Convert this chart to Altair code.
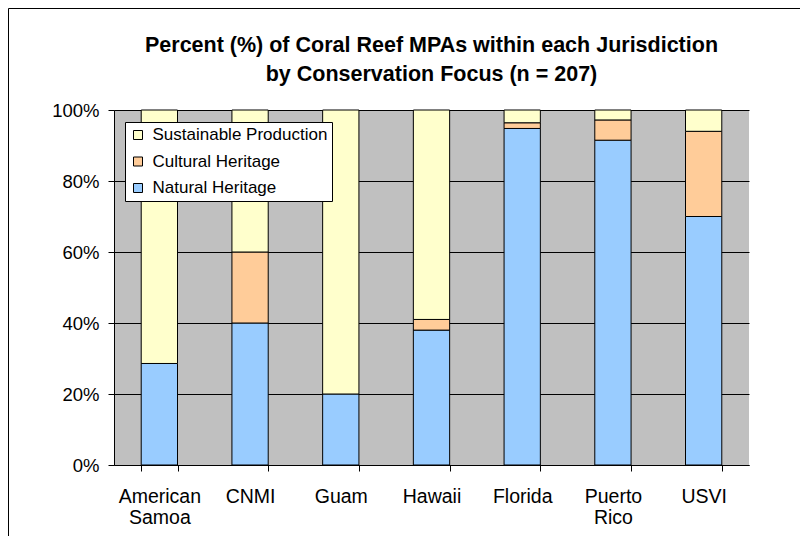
import altair as alt
import pandas as pd

categories = ["American Samoa", "CNMI", "Guam", "Hawaii", "Florida", "Puerto Rico", "USVI"]
series = ["Natural Heritage", "Cultural Heritage", "Sustainable Production"]
natural = [28.6, 40.0, 20.0, 38.0, 94.8, 91.5, 70.0]
cultural = [0.0, 20.0, 0.0, 3.0, 1.6, 5.7, 24.0]
sustainable = [71.4, 40.0, 80.0, 59.0, 3.6, 2.8, 6.0]
colors = {"Sustainable Production": "#FFFFCC", "Cultural Heritage": "#FFCC99", "Natural Heritage": "#99CCFF"}
y_ticks = [0, 20, 40, 60, 80, 100]

rows = []
for vals, name, order in ((natural, series[0], 0), (cultural, series[1], 1), (sustainable, series[2], 2)):
    for cat, v in zip(categories, vals):
        if v > 0:
            rows.append({"Jurisdiction": cat, "Focus": name, "Percent": v, "ord": order})
df = pd.DataFrame(rows)

legend_order = ["Sustainable Production", "Cultural Heritage", "Natural Heritage"]
FONT = "Liberation Sans"

bars = alt.Chart(df).mark_bar(stroke="black", strokeWidth=1).encode(
    x=alt.X("Jurisdiction:N", sort=categories, title=None,
            scale=alt.Scale(paddingInner=0.6, paddingOuter=0.3),
            axis=alt.Axis(labelAngle=0, labelExpr="split(datum.label, ' ')",
                          tickBand="extent", tickSize=6, tickColor="black",
                          domainColor="black", labelPadding=16, labelFontSize=19.5,
                          labelLineHeight=21, labelColor="black", labelFont=FONT,
                          grid=False)),
    y=alt.Y("Percent:Q", stack="zero", title=None,
            scale=alt.Scale(domain=[0, 100], nice=False),
            axis=alt.Axis(values=y_ticks, labelExpr="datum.value + '%'",
                          tickSize=6, tickColor="black", domainColor="black",
                          gridColor="black", gridOpacity=1, labelPadding=9,
                          labelFontSize=18.5, labelColor="black", labelFont=FONT)),
    color=alt.Color("Focus:N", title=None,
                    scale=alt.Scale(domain=legend_order, range=[colors[k] for k in legend_order]),
                    legend=alt.Legend(orient="none", legendX=11, legendY=12,
                                      fillColor="white", strokeColor="black",
                                      padding=4.5, symbolType="square", symbolSize=81,
                                      symbolStrokeColor="black", symbolStrokeWidth=1,
                                      labelFontSize=17, labelFont=FONT, labelColor="black",
                                      labelOffset=6, rowPadding=8.5, labelLimit=400)),
    order=alt.Order("ord:Q", sort="ascending"),
)

frame = alt.Chart(alt.Data(values=[{"a": 1}])).mark_rect(
    fillOpacity=0, stroke="black", strokeWidth=1
).encode(
    x=alt.value(-105.5), x2=alt.value(900), y=alt.value(-101.5), y2=alt.value(600)
)

chart = alt.layer(bars, frame).properties(
    width=635, height=355,
    autosize=alt.AutoSizeParams(type="none"),
    padding={"left": 106, "top": 102, "right": 51, "bottom": 71},
    background="white",
    title=alt.Title(["Percent (%) of Coral Reef MPAs within each Jurisdiction",
                     "by Conservation Focus (n = 207)"],
                    fontSize=21.5, fontWeight="bold", font=FONT, color="black",
                    anchor="middle", frame="group", baseline="bottom",
                    lineHeight=29, offset=0, dy=99),
).configure_view(fill="#C0C0C0", stroke=None)

chart.save("out.html", embed_options={"renderer": "svg", "actions": False})
